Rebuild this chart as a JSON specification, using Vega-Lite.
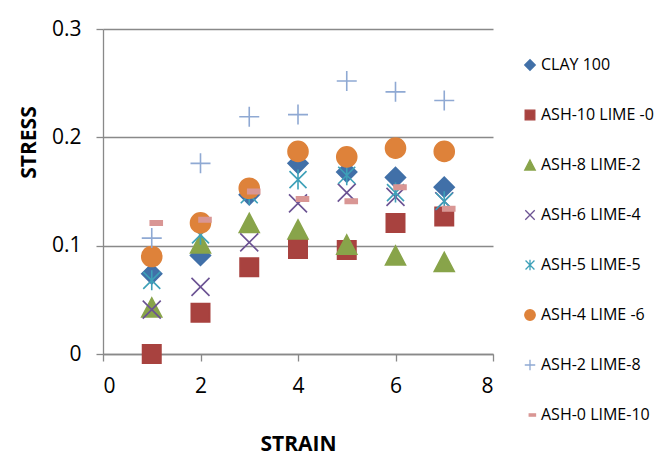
{
  "$schema": "https://vega.github.io/schema/vega-lite/v6.json",
  "width": 390,
  "height": 325,
  "autosize": {"type": "none"},
  "padding": {"left": 103, "top": 29, "right": 169, "bottom": 109},
  "background": "white",
  "config": {
    "font": "Open Sans",
    "view": {"stroke": null},
    "axis": {
      "labelFont": "Open Sans",
      "labelColor": "#000000",
      "titleFont": "Open Sans",
      "titleFontWeight": "bold",
      "titleColor": "#000000",
      "domainColor": "#898989",
      "domainWidth": 1.3,
      "tickColor": "#898989",
      "tickWidth": 1.3,
      "tickSize": 7,
      "gridColor": "#898989",
      "gridWidth": 1.3
    }
  },
  "data": {
    "values": [
      {"series": "CLAY 100", "strain": 1, "stress": 0.074},
      {"series": "CLAY 100", "strain": 2, "stress": 0.091},
      {"series": "CLAY 100", "strain": 3, "stress": 0.147},
      {"series": "CLAY 100", "strain": 4, "stress": 0.176},
      {"series": "CLAY 100", "strain": 5, "stress": 0.168},
      {"series": "CLAY 100", "strain": 6, "stress": 0.163},
      {"series": "CLAY 100", "strain": 7, "stress": 0.154},
      {"series": "ASH-10 LIME -0", "strain": 1, "stress": 0.0},
      {"series": "ASH-10 LIME -0", "strain": 2, "stress": 0.038},
      {"series": "ASH-10 LIME -0", "strain": 3, "stress": 0.080},
      {"series": "ASH-10 LIME -0", "strain": 4, "stress": 0.097},
      {"series": "ASH-10 LIME -0", "strain": 5, "stress": 0.096},
      {"series": "ASH-10 LIME -0", "strain": 6, "stress": 0.121},
      {"series": "ASH-10 LIME -0", "strain": 7, "stress": 0.127},
      {"series": "ASH-8 LIME-2", "strain": 1, "stress": 0.043},
      {"series": "ASH-8 LIME-2", "strain": 2, "stress": 0.102},
      {"series": "ASH-8 LIME-2", "strain": 3, "stress": 0.121},
      {"series": "ASH-8 LIME-2", "strain": 4, "stress": 0.115},
      {"series": "ASH-8 LIME-2", "strain": 5, "stress": 0.101},
      {"series": "ASH-8 LIME-2", "strain": 6, "stress": 0.091},
      {"series": "ASH-8 LIME-2", "strain": 7, "stress": 0.085},
      {"series": "ASH-6 LIME-4", "strain": 1, "stress": 0.041},
      {"series": "ASH-6 LIME-4", "strain": 2, "stress": 0.062},
      {"series": "ASH-6 LIME-4", "strain": 3, "stress": 0.103},
      {"series": "ASH-6 LIME-4", "strain": 4, "stress": 0.139},
      {"series": "ASH-6 LIME-4", "strain": 5, "stress": 0.149},
      {"series": "ASH-6 LIME-4", "strain": 6, "stress": 0.145},
      {"series": "ASH-6 LIME-4", "strain": 7, "stress": 0.141},
      {"series": "ASH-5 LIME-5", "strain": 1, "stress": 0.068},
      {"series": "ASH-5 LIME-5", "strain": 2, "stress": 0.110},
      {"series": "ASH-5 LIME-5", "strain": 3, "stress": 0.147},
      {"series": "ASH-5 LIME-5", "strain": 4, "stress": 0.161},
      {"series": "ASH-5 LIME-5", "strain": 5, "stress": 0.165},
      {"series": "ASH-5 LIME-5", "strain": 6, "stress": 0.149},
      {"series": "ASH-5 LIME-5", "strain": 7, "stress": 0.141},
      {"series": "ASH-4 LIME -6", "strain": 1, "stress": 0.090},
      {"series": "ASH-4 LIME -6", "strain": 2, "stress": 0.121},
      {"series": "ASH-4 LIME -6", "strain": 3, "stress": 0.153},
      {"series": "ASH-4 LIME -6", "strain": 4, "stress": 0.187},
      {"series": "ASH-4 LIME -6", "strain": 5, "stress": 0.182},
      {"series": "ASH-4 LIME -6", "strain": 6, "stress": 0.190},
      {"series": "ASH-4 LIME -6", "strain": 7, "stress": 0.187},
      {"series": "ASH-2 LIME-8", "strain": 1, "stress": 0.107},
      {"series": "ASH-2 LIME-8", "strain": 2, "stress": 0.176},
      {"series": "ASH-2 LIME-8", "strain": 3, "stress": 0.219},
      {"series": "ASH-2 LIME-8", "strain": 4, "stress": 0.221},
      {"series": "ASH-2 LIME-8", "strain": 5, "stress": 0.252},
      {"series": "ASH-2 LIME-8", "strain": 6, "stress": 0.242},
      {"series": "ASH-2 LIME-8", "strain": 7, "stress": 0.234},
      {"series": "ASH-0 LIME-10", "strain": 1, "stress": 0.121},
      {"series": "ASH-0 LIME-10", "strain": 2, "stress": 0.124},
      {"series": "ASH-0 LIME-10", "strain": 3, "stress": 0.150},
      {"series": "ASH-0 LIME-10", "strain": 4, "stress": 0.143},
      {"series": "ASH-0 LIME-10", "strain": 5, "stress": 0.141},
      {"series": "ASH-0 LIME-10", "strain": 6, "stress": 0.154},
      {"series": "ASH-0 LIME-10", "strain": 7, "stress": 0.134}
    ]
  },
  "mark": {"type": "point", "filled": true, "opacity": 1, "strokeWidth": 1.6, "size": 400},
  "encoding": {
    "x": {
      "field": "strain",
      "type": "quantitative",
      "scale": {"domain": [0, 8], "nice": false, "zero": false},
      "axis": {
        "values": [0, 2, 4, 6, 8],
        "grid": false,
        "title": "STRAIN",
        "labelFontSize": 21,
        "titleFontSize": 21,
        "labelPadding": 14,
        "titleY": 90,
        "titleBaseline": "middle"
      }
    },
    "y": {
      "field": "stress",
      "type": "quantitative",
      "scale": {"domain": [0, 0.3], "nice": false},
      "axis": {
        "values": [0, 0.1, 0.2, 0.3],
        "format": "~g",
        "grid": true,
        "title": "STRESS",
        "labelFontSize": 21,
        "titleFontSize": 21,
        "labelPadding": 15,
        "titleX": -74,
        "titleY": 113,
        "titleAngle": 270,
        "titleAlign": "center",
        "titleBaseline": "middle"
      }
    },
    "color": {
      "field": "series",
      "type": "nominal",
      "scale": {
        "domain": ["CLAY 100", "ASH-10 LIME -0", "ASH-8 LIME-2", "ASH-6 LIME-4", "ASH-5 LIME-5", "ASH-4 LIME -6", "ASH-2 LIME-8", "ASH-0 LIME-10"],
        "range": ["#4170A8", "#A8423F", "#88A44A", "#6B5293", "#3DA0B8", "#DE823A", "#8FA9D3", "#D99694"]
      },
      "legend": {
        "title": null,
        "orient": "none",
        "legendX": 419,
        "legendY": 28,
        "labelFont": "Open Sans",
        "labelFontSize": 16,
        "labelColor": "#000000",
        "symbolSize": 110,
        "symbolStrokeWidth": 1.3,
        "rowPadding": 34,
        "labelOffset": 3
      }
    },
    "stroke": {
      "field": "series",
      "type": "nominal",
      "scale": {
        "domain": ["CLAY 100", "ASH-10 LIME -0", "ASH-8 LIME-2", "ASH-6 LIME-4", "ASH-5 LIME-5", "ASH-4 LIME -6", "ASH-2 LIME-8", "ASH-0 LIME-10"],
        "range": ["#4170A8", "#A8423F", "#88A44A", "#6B5293", "#3DA0B8", "#DE823A", "#8FA9D3", "#D99694"]
      },
      "legend": null
    },
    "shape": {
      "field": "series",
      "type": "nominal",
      "scale": {
        "domain": ["CLAY 100", "ASH-10 LIME -0", "ASH-8 LIME-2", "ASH-6 LIME-4", "ASH-5 LIME-5", "ASH-4 LIME -6", "ASH-2 LIME-8", "ASH-0 LIME-10"],
        "range": [
          "diamond",
          "M-0.92,-0.92L0.92,-0.92L0.92,0.92L-0.92,0.92Z",
          "M0,-0.95L1,0.95L-1,0.95Z",
          "M-0.9,-0.9L0.9,0.9M-0.9,0.9L0.9,-0.9",
          "M-0.85,-0.85L0.85,0.85M-0.85,0.85L0.85,-0.85M0,-1L0,1",
          "circle",
          "M-1,0L1,0M0,-1L0,1",
          "M-0.15,-0.22L1.05,-0.22L1.05,0.22L-0.15,0.22Z"
        ]
      },
      "legend": null
    }
  }
}
